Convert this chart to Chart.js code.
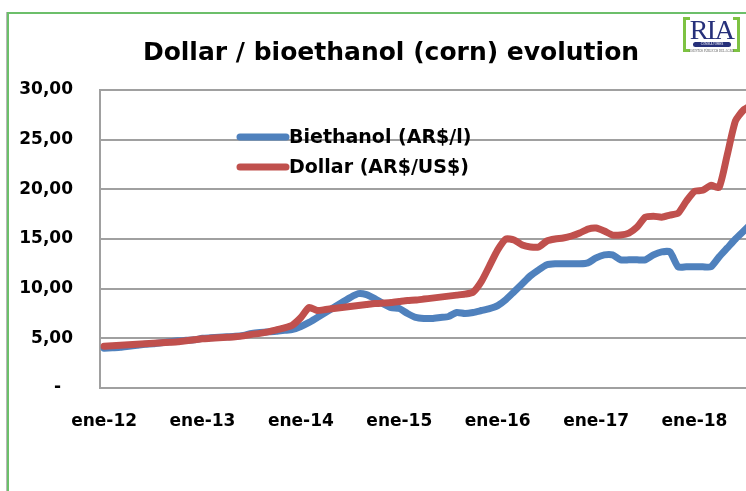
<!DOCTYPE html>
<html>
<head>
<meta charset="utf-8">
<script src="https://cdn.jsdelivr.net/npm/chart.js@4.4.0/dist/chart.umd.min.js"></script>
<style>
  html, body { margin: 0; padding: 0; background: #fff; overflow: hidden; }
  body { width: 746px; height: 491px; position: relative; }
  #chart { position: absolute; left: 0; top: 0; }
  .frame { position: absolute; left: 7px; top: 12px; width: 760px; height: 500px;
    border-top: 2px solid #6cbf6a; border-left: 2px solid #6cbf6a;
    box-shadow: -1px 0 0 #b8b8b8; }
  .title { position: absolute; left: 0; top: 37px; width: 782px; text-align: center;
    font: bold 25px 'DejaVu Sans', sans-serif; line-height: 30px; color: #000; }
  .logo { position: absolute; left: 683px; top: 16px; width: 57px; height: 40px; }
  .logo .br { position: absolute; top: 1px; width: 4px; height: 29px;
    border: 3px solid #7dc242; }
  .logo .bl { left: 0; border-right: none; }
  .logo .brr { right: 0; border-left: none; }
  .logo .ria { position: absolute; left: 0; width: 57px; top: 0; text-align: center;
    font: 28px 'Liberation Serif', serif; color: #26307a; line-height: 28px; letter-spacing: -1.5px; }
  .logo .band { position: absolute; left: 10px; top: 26px; width: 38px; height: 5px;
    background: #26307a; border-radius: 3px; color: #fff; font: 3px sans-serif;
    text-align: center; line-height: 5px; }
  .logo .sub { position: absolute; left: 0; top: 33px; width: 57px; text-align: center;
    font: 3px 'Liberation Serif', serif; color: #555; white-space: nowrap; }
</style>
</head>
<body>
<div class="frame"></div>
<canvas id="chart" width="782" height="491"></canvas>
<div class="title">Dollar / bioethanol (corn) evolution</div>
<div class="logo">
  <div class="br bl"></div><div class="br brr"></div>
  <div class="ria">RIA</div>
  <div class="band">CONSULTORES</div>
  <div class="sub">ASUNTOS PÚBLICOS DEL AGRO</div>
</div>
<script>
// Monthly categories, ene-12 .. ago-18
const months = [
  'ene-12','feb-12','mar-12','abr-12','may-12','jun-12','jul-12','ago-12','sep-12','oct-12','nov-12','dic-12',
  'ene-13','feb-13','mar-13','abr-13','may-13','jun-13','jul-13','ago-13','sep-13','oct-13','nov-13','dic-13',
  'ene-14','feb-14','mar-14','abr-14','may-14','jun-14','jul-14','ago-14','sep-14','oct-14','nov-14','dic-14',
  'ene-15','feb-15','mar-15','abr-15','may-15','jun-15','jul-15','ago-15','sep-15','oct-15','nov-15','dic-15',
  'ene-16','feb-16','mar-16','abr-16','may-16','jun-16','jul-16','ago-16','sep-16','oct-16','nov-16','dic-16',
  'ene-17','feb-17','mar-17','abr-17','may-17','jun-17','jul-17','ago-17','sep-17','oct-17','nov-17','dic-17',
  'ene-18','feb-18','mar-18','abr-18','may-18','jun-18','jul-18','ago-18'
];

// Bioethanol price (AR$/l)
const bioethanol = [
  4.0, 4.05, 4.1, 4.2, 4.3, 4.4, 4.45, 4.55, 4.65, 4.75, 4.8, 4.85,
  5.0, 5.05, 5.1, 5.15, 5.2, 5.3, 5.5, 5.6, 5.65, 5.7, 5.8, 5.9,
  6.2, 6.6, 7.1, 7.6, 8.1, 8.6, 9.1, 9.5, 9.4, 9.0, 8.5, 8.1,
  8.0, 7.5, 7.1, 7.0, 7.0, 7.1, 7.2, 7.6, 7.5, 7.6, 7.8, 8.0,
  8.3, 8.9, 9.7, 10.5, 11.3, 11.9, 12.4, 12.5, 12.5, 12.5, 12.5, 12.6,
  13.1, 13.4, 13.4, 12.9, 12.9, 12.9, 12.9, 13.4, 13.7, 13.7, 12.2, 12.2,
  12.2, 12.2, 12.2, 13.2, 14.1, 15.0, 15.8, 16.6
];

// Exchange rate (AR$/US$)
const dollar = [
  4.2, 4.25, 4.3, 4.35, 4.4, 4.45, 4.5, 4.55, 4.6, 4.65, 4.75, 4.85,
  4.95, 5.0, 5.05, 5.1, 5.15, 5.25, 5.4, 5.5, 5.65, 5.85, 6.05, 6.35,
  7.1, 8.1, 7.8, 7.9, 8.0, 8.1, 8.2, 8.3, 8.4, 8.5, 8.55, 8.6,
  8.7, 8.8, 8.85, 8.95, 9.05, 9.15, 9.25, 9.35, 9.45, 9.65, 10.7, 12.3,
  13.9, 15.0, 14.9, 14.4, 14.2, 14.2, 14.8, 15.0, 15.1, 15.3, 15.6, 16.0,
  16.1, 15.8, 15.4, 15.4, 15.6, 16.2, 17.2, 17.3, 17.2, 17.4, 17.6, 18.8,
  19.8, 19.9, 20.4, 20.2, 23.5, 26.9, 28.0, 28.5
];

const yTicks = [0, 5, 10, 15, 20, 25, 30];

const BLUE = '#4f81bd';
const RED = '#c0504d';
const GRID = '#a0a0a0';

Chart.defaults.font.family = "'DejaVu Sans', sans-serif";
Chart.defaults.color = '#000';

// Legend drawn inside the plot, like the Excel original
const insideLegend = {
  id: 'insideLegend',
  afterDatasetsDraw(chart) {
    const ctx = chart.ctx;
    ctx.save();
    chart.data.datasets.forEach((ds, i) => {
      const y = 137 + i * 30;
      ctx.strokeStyle = ds.borderColor;
      ctx.lineWidth = 7;
      ctx.lineCap = 'round';
      ctx.beginPath();
      ctx.moveTo(240, y);
      ctx.lineTo(286, y);
      ctx.stroke();
      ctx.fillStyle = '#000';
      ctx.font = "bold 19px 'DejaVu Sans', sans-serif";
      ctx.textBaseline = 'middle';
      ctx.textAlign = 'left';
      ctx.fillText(ds.label, 289, y + 1);
    });
    ctx.restore();
  }
};

const ctx = document.getElementById('chart').getContext('2d');
new Chart(ctx, {
  type: 'line',
  data: {
    labels: months,
    datasets: [
      {
        label: 'Biethanol (AR$/l)',
        data: bioethanol,
        borderColor: BLUE,
        borderWidth: 7,
        pointRadius: 0,
        tension: 0.2,
        borderJoinStyle: 'round',
        borderCapStyle: 'round',
        order: 2
      },
      {
        label: 'Dollar (AR$/US$)',
        data: dollar,
        borderColor: RED,
        borderWidth: 7,
        pointRadius: 0,
        tension: 0.2,
        borderJoinStyle: 'round',
        borderCapStyle: 'round',
        order: 1
      }
    ]
  },
  options: {
    responsive: false,
    animation: false,
    layout: {
      padding: { top: 90, right: 26, bottom: 0, left: 0 }
    },
    plugins: {
      legend: { display: false },
      title: { display: false },
      tooltip: { enabled: false }
    },
    scales: {
      x: {
        offset: true,
        grid: { display: false, drawTicks: false },
        border: { display: true, color: GRID, width: 2 },
        ticks: {
          autoSkip: false,
          maxRotation: 0,
          padding: 23,
          font: { size: 17, weight: 'bold' },
          callback: function(value, index) {
            return index % 12 === 0 ? months[index] : '';
          }
        },
        afterFit: function(scale) { scale.height = 103; }
      },
      y: {
        min: 0,
        max: 30,
        afterBuildTicks: function(scale) {
          scale.ticks = yTicks.map(v => ({ value: v }));
        },
        grid: { color: GRID, lineWidth: 2, drawTicks: false },
        border: { display: true, color: GRID, width: 2 },
        ticks: {
          padding: 27,
          font: { size: 17, weight: 'bold' },
          callback: function(value) {
            return value === 0 ? '-  ' : value.toFixed(2).replace('.', ',');
          }
        },
        afterFit: function(scale) { scale.width = 100; }
      }
    }
  },
  plugins: [insideLegend]
});
</script>
</body>
</html>
